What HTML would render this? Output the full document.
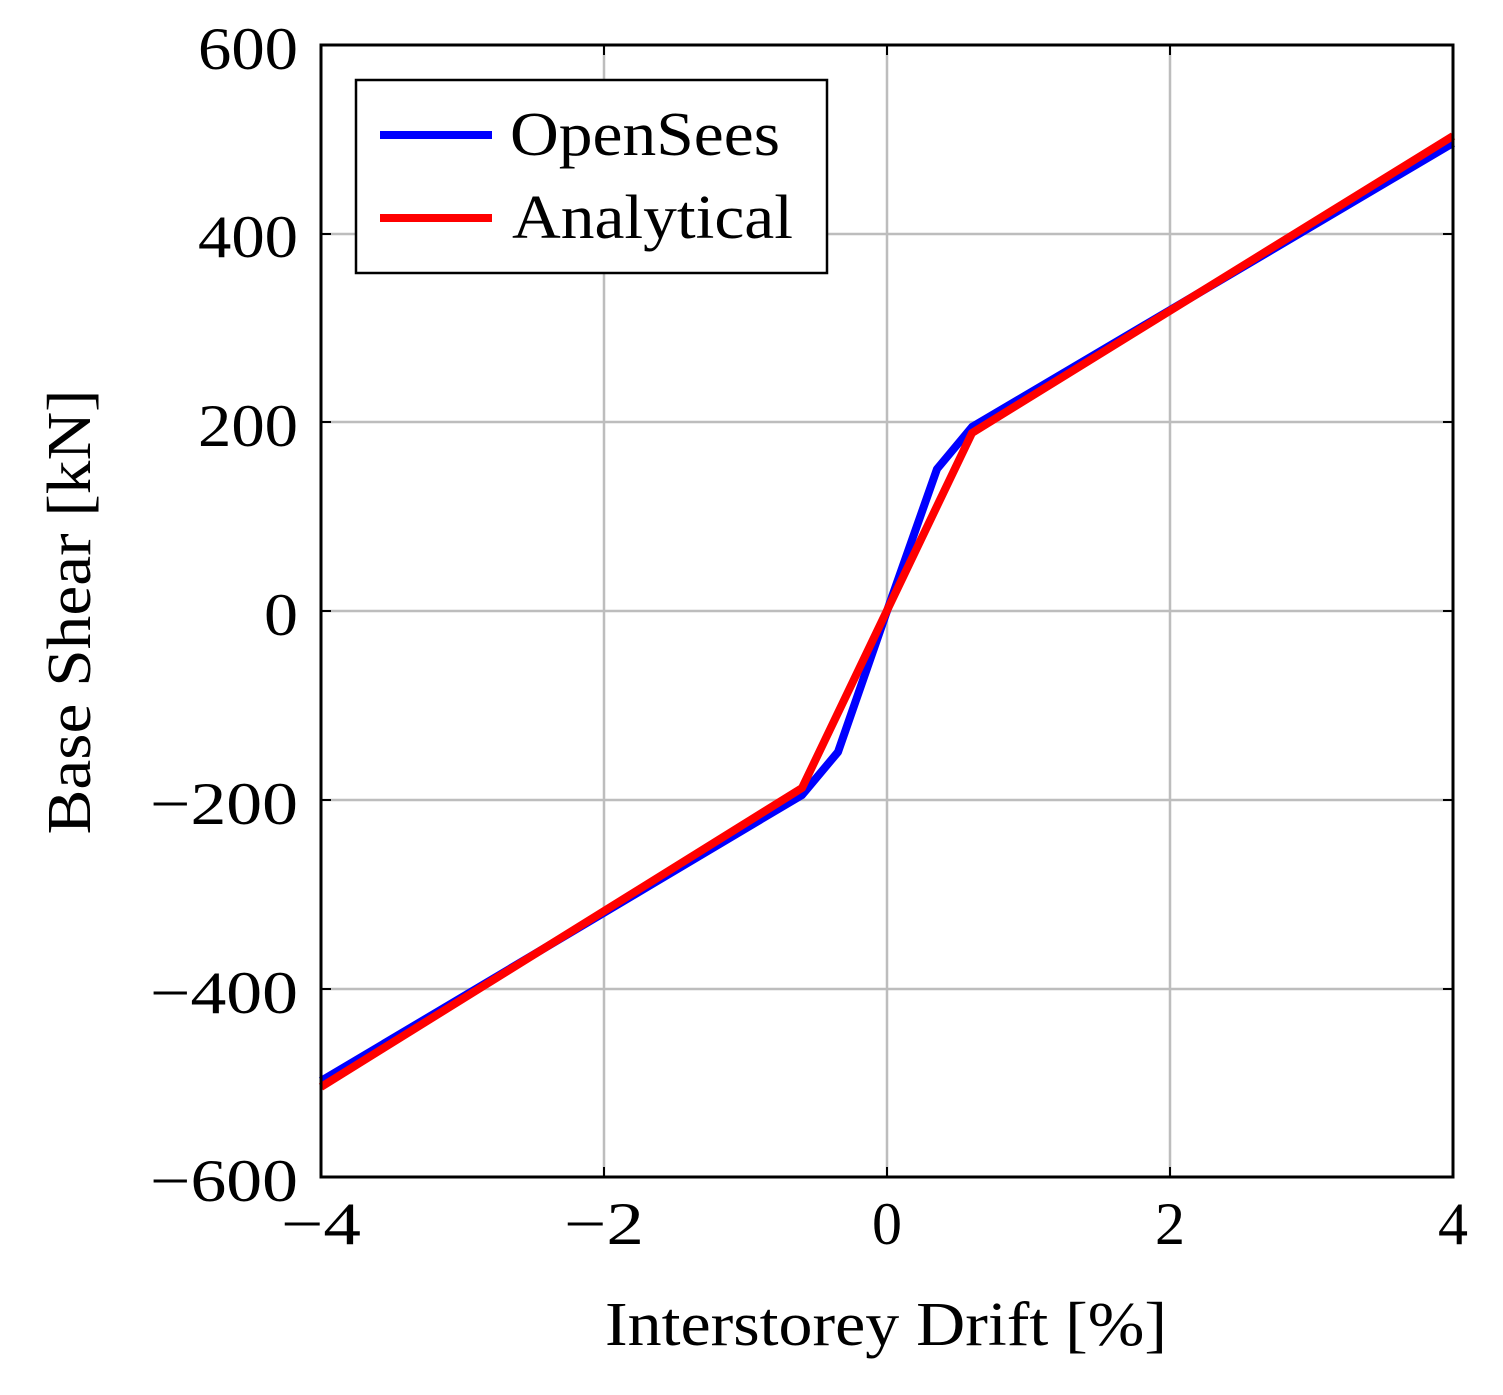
<!DOCTYPE html>
<html><head><style>body{margin:0;background:#fff}</style></head><body>
<svg width="1503" height="1390" xmlns="http://www.w3.org/2000/svg" font-family="Liberation Serif, serif">
<rect width="1503" height="1390" fill="#fff"/>
<g stroke="#bdbdbd" stroke-width="2.5">
<line x1="604" y1="45" x2="604" y2="1177"/><line x1="887" y1="45" x2="887" y2="1177"/><line x1="1170" y1="45" x2="1170" y2="1177"/>
<line x1="321" y1="234" x2="1453" y2="234"/><line x1="321" y1="422" x2="1453" y2="422"/><line x1="321" y1="611" x2="1453" y2="611"/><line x1="321" y1="800" x2="1453" y2="800"/><line x1="321" y1="989" x2="1453" y2="989"/>
</g>
<g stroke="#000" stroke-width="2">
<line x1="604" y1="1177" x2="604" y2="1167"/><line x1="887" y1="1177" x2="887" y2="1167"/><line x1="1170" y1="1177" x2="1170" y2="1167"/>
<line x1="604" y1="45" x2="604" y2="55"/><line x1="887" y1="45" x2="887" y2="55"/><line x1="1170" y1="45" x2="1170" y2="55"/>
<line x1="321" y1="234" x2="331" y2="234"/><line x1="321" y1="422" x2="331" y2="422"/><line x1="321" y1="611" x2="331" y2="611"/><line x1="321" y1="800" x2="331" y2="800"/><line x1="321" y1="989" x2="331" y2="989"/>
<line x1="1453" y1="234" x2="1443" y2="234"/><line x1="1453" y1="422" x2="1443" y2="422"/><line x1="1453" y1="611" x2="1443" y2="611"/><line x1="1453" y1="800" x2="1443" y2="800"/><line x1="1453" y1="989" x2="1443" y2="989"/>
</g>
<polyline fill="none" stroke="#0000ff" stroke-width="8" stroke-linejoin="round" points="321,1081 802,795 838,752 887,611 937,469 972,427 1453,143"/>
<polyline fill="none" stroke="#ff0000" stroke-width="8" stroke-linejoin="round" points="321,1087 802,788 972,433 1453,136"/>
<rect x="321" y="45" width="1132" height="1132" fill="none" stroke="#000" stroke-width="3"/>
<rect x="356" y="80" width="471" height="193" fill="#fff" stroke="#000" stroke-width="2.5"/>
<line x1="380" y1="135" x2="492" y2="135" stroke="#0000ff" stroke-width="8"/>
<line x1="380" y1="218" x2="492" y2="218" stroke="#ff0000" stroke-width="8"/>
<g font-size="62">
<text x="510" y="155" textLength="270" lengthAdjust="spacingAndGlyphs">OpenSees</text>
<text x="512" y="238" textLength="281" lengthAdjust="spacingAndGlyphs">Analytical</text>
</g>
<g font-size="60" text-anchor="end" lengthAdjust="spacingAndGlyphs">
<text x="298" y="69" textLength="100" lengthAdjust="spacingAndGlyphs">600</text><text x="298" y="257" textLength="100" lengthAdjust="spacingAndGlyphs">400</text><text x="298" y="446" textLength="100" lengthAdjust="spacingAndGlyphs">200</text><text x="298" y="635" textLength="34" lengthAdjust="spacingAndGlyphs">0</text>
<text x="298" y="824" textLength="148" lengthAdjust="spacingAndGlyphs">−200</text><text x="298" y="1013" textLength="148" lengthAdjust="spacingAndGlyphs">−400</text><text x="298" y="1201" textLength="148" lengthAdjust="spacingAndGlyphs">−600</text>
</g>
<g font-size="60" text-anchor="middle">
<text x="321" y="1244" textLength="80" lengthAdjust="spacingAndGlyphs">−4</text><text x="604" y="1244" textLength="80" lengthAdjust="spacingAndGlyphs">−2</text><text x="887" y="1244">0</text><text x="1170" y="1244">2</text><text x="1453" y="1244">4</text>
</g>
<text x="886" y="1345" font-size="62" text-anchor="middle" textLength="562" lengthAdjust="spacingAndGlyphs">Interstorey Drift [%]</text>
<text transform="translate(90,612) rotate(-90)" font-size="62" text-anchor="middle" textLength="445" lengthAdjust="spacingAndGlyphs">Base Shear [kN]</text>
</svg>
</body></html>
